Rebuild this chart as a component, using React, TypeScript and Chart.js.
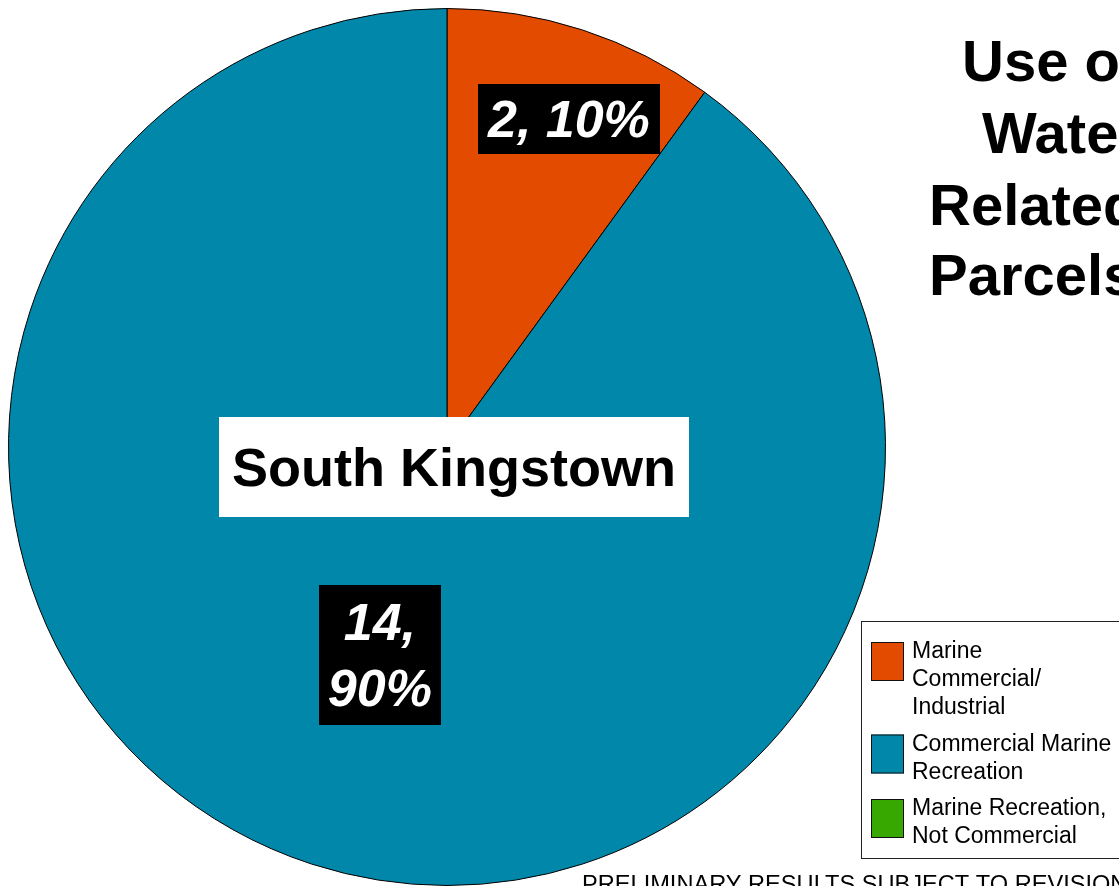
import React, { useEffect, useRef } from "react";
import { Chart, registerables } from "chart.js";

Chart.register(...registerables);

// ---- data ----
const categories: string[][] = [
  ["Marine", "Commercial/", "Industrial"],
  ["Commercial Marine", "Recreation"],
  ["Marine Recreation,", "Not Commercial"],
];
const parcelCounts = [2, 14, 0];
const sharePercent = [10, 90, 0];
const sliceColors = ["#E34C00", "#0087AA", "#36A800"];
const titleLines = ["Use of", "Water-", "Related", "Parcels"];
const townName = "South Kingstown";
const footnote = "PRELIMINARY RESULTS SUBJECT TO REVISION";

const FONT = '"Liberation Sans", Arial, Helvetica, sans-serif';

const overlayPlugin = {
  id: "overlay",
  afterDraw(chart: any) {
    const ctx: CanvasRenderingContext2D = chart.ctx;
    const meta = chart.getDatasetMeta(0);
    ctx.save();

    // slice value labels
    const labelOffsets: Record<number, [number, number]> = {
      0: [0.278, -0.749],
      1: [-0.153, 0.474],
    };
    meta.data.forEach((arc: any, i: number) => {
      if (!sharePercent[i]) return;
      const p = arc.getProps(["x", "y", "outerRadius"], true);
      const off = labelOffsets[i] || [0, 0];
      const cx = p.x + off[0] * p.outerRadius;
      const cy = p.y + off[1] * p.outerRadius;
      const lines =
        i === 1
          ? [`${parcelCounts[i]},`, `${sharePercent[i]}%`]
          : [`${parcelCounts[i]}, ${sharePercent[i]}%`];
      const size = 52;
      ctx.font = `italic bold ${size}px ${FONT}`;
      const lineH = 66;
      const padX = i === 1 ? 9 : 10;
      const padY = lines.length === 1 ? 2 : 4;
      const w = Math.max(...lines.map((l) => ctx.measureText(l).width)) + padX * 2;
      const h = lines.length * lineH + padY * 2;
      ctx.fillStyle = "#000";
      ctx.fillRect(Math.round(cx - w / 2), Math.round(cy - h / 2), Math.round(w), Math.round(h));
      ctx.fillStyle = "#fff";
      ctx.textAlign = "center";
      ctx.textBaseline = "alphabetic";
      lines.forEach((l, k) => {
        const lc = cy - h / 2 + padY + lineH * (k + 0.5);
        ctx.fillText(l, cx, lc + 0.358 * size);
      });
    });

    // town name box
    {
      const p = meta.data[0].getProps(["x", "y"], true);
      const cx = p.x + 7;
      const cy = p.y + 20;
      const size = 54;
      ctx.font = `bold ${size}px ${FONT}`;
      const w = ctx.measureText(townName).width + 26;
      const h = 100;
      ctx.fillStyle = "#fff";
      ctx.fillRect(Math.round(cx - w / 2), Math.round(cy - h / 2), Math.round(w), h);
      ctx.fillStyle = "#000";
      ctx.textAlign = "center";
      ctx.textBaseline = "alphabetic";
      ctx.fillText(townName, cx, cy + 0.358 * size);
    }

    // title
    {
      const size = 58;
      ctx.font = `bold ${size}px ${FONT}`;
      ctx.fillStyle = "#000";
      ctx.textAlign = "left";
      ctx.textBaseline = "alphabetic";
      const xs = [962, 982, 929, 929];
      const ys = [81, 153, 225, 295];
      titleLines.forEach((t, k) => ctx.fillText(t, xs[k], ys[k]));
    }

    // legend
    {
      const boxX = 861.5;
      const boxY = 621.5;
      ctx.fillStyle = "#fff";
      ctx.fillRect(boxX, boxY, 300, 237);
      ctx.strokeStyle = "#222";
      ctx.lineWidth = 1;
      ctx.strokeRect(boxX, boxY, 300, 237);
      const size = 23;
      const lineH = 28;
      ctx.font = `${size}px ${FONT}`;
      ctx.textAlign = "left";
      ctx.textBaseline = "alphabetic";
      let y0 = 650;
      categories.forEach((lines, i) => {
        ctx.fillStyle = sliceColors[i];
        ctx.fillRect(871, y0 - 8, 33, 39);
        ctx.strokeStyle = "#111";
        ctx.strokeRect(871.5, y0 - 7.5, 32, 38);
        ctx.fillStyle = "#000";
        lines.forEach((l, k) => {
          ctx.fillText(l, 912, y0 + k * lineH + 0.358 * size);
        });
        y0 += lines.length * lineH + 8.5;
      });
    }

    // footnote
    {
      ctx.font = `23.6px ${FONT}`;
      ctx.fillStyle = "#000";
      ctx.textAlign = "left";
      ctx.textBaseline = "alphabetic";
      ctx.fillText(footnote, 582, 892);
    }

    ctx.restore();
  },
};

export default function App() {
  const ref = useRef<HTMLCanvasElement | null>(null);
  useEffect(() => {
    if (!ref.current) return;
    const chart = new Chart(ref.current, {
      type: "pie",
      data: {
        labels: categories as any,
        datasets: [
          {
            data: sharePercent,
            backgroundColor: sliceColors,
            borderColor: "#000",
            borderWidth: 1,
          },
        ],
      },
      options: {
        responsive: false,
        animation: false,
        events: [],
        layout: { padding: { left: 8, top: 8, right: 233, bottom: 0 } },
        plugins: {
          legend: { display: false },
          tooltip: { enabled: false },
          title: { display: false },
        },
      },
      plugins: [overlayPlugin],
    });
    return () => chart.destroy();
  }, []);
  return (
    <div style={{ position: "fixed", left: 0, top: 0, width: 1119, height: 886, background: "#fff", overflow: "hidden" }}>
      <canvas ref={ref} width={1119} height={886} style={{ width: 1119, height: 886, display: "block" }} />
    </div>
  );
}
